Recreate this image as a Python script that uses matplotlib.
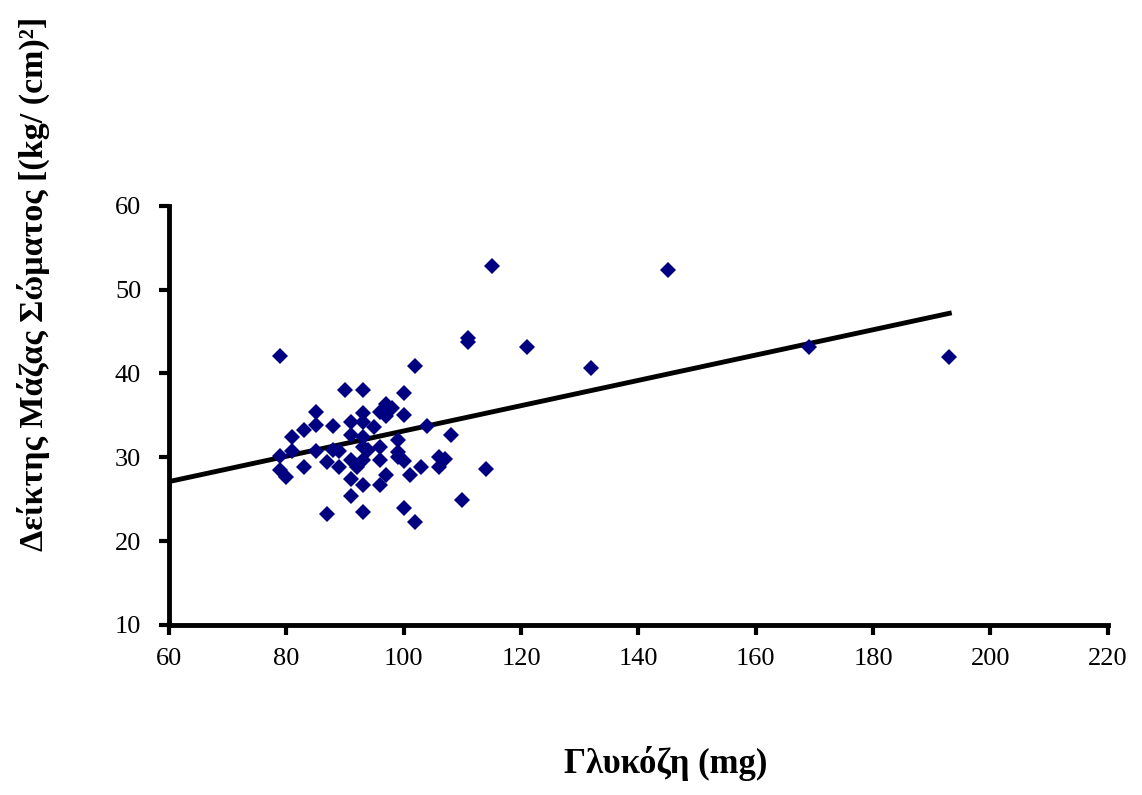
import numpy as np
import matplotlib
matplotlib.use("Agg")
import matplotlib.pyplot as plt

# glucose (mg) vs body mass index
glucose = [79, 115, 145, 111, 111, 121, 132, 169, 193, 102,
           90, 93, 100, 97, 98, 96, 97, 100, 85, 93,
           104, 108, 114, 110, 102, 100, 93, 87, 91, 96,
           97, 93, 91, 101, 103, 106, 107, 106, 99, 99,
           96, 96, 93, 93, 92, 89, 87, 83, 79, 80,
           79, 81, 81, 83, 85, 88, 91, 93, 91, 95,
           93, 88, 85, 94, 100, 99, 89, 91]
bmi = [42.1, 52.8, 52.4, 44.2, 43.8, 43.2, 40.7, 43.2, 42.0, 40.9,
       38.0, 38.0, 37.7, 36.3, 35.9, 35.4, 34.9, 35.1, 35.4, 35.3,
       33.7, 32.6, 28.6, 24.9, 22.3, 23.9, 23.5, 23.2, 25.4, 26.7,
       27.9, 26.7, 27.4, 27.9, 28.8, 30.0, 29.8, 28.9, 30.6, 32.1,
       31.2, 29.7, 31.2, 29.7, 28.9, 28.9, 29.4, 28.9, 28.5, 27.6,
       30.1, 30.7, 32.4, 33.2, 33.9, 33.7, 34.2, 34.2, 32.7, 33.6,
       32.4, 30.9, 30.7, 30.9, 29.5, 30.0, 30.7, 29.7]

# linear trend line as drawn in the original (slope, intercept)
trend_slope = 0.151
trend_intercept = 18.04
trend_start = 60

x_ticks = [60, 80, 100, 120, 140, 160, 180, 200, 220]
y_ticks = [10, 20, 30, 40, 50, 60]

plt.rcParams['font.family'] = ['Liberation Serif', 'DejaVu Serif']

fig = plt.figure(figsize=(11.42, 7.95), dpi=100)
ax = fig.add_axes([0.148, 0.214, 0.822, 0.527])

ax.plot(glucose, bmi, linestyle="none", marker="D", markersize=8.5,
        color="#000080", markeredgewidth=0, zorder=3)

tx = np.array([trend_start, max(glucose)])
ax.plot(tx, trend_slope * tx + trend_intercept, color="black", linewidth=3.5, zorder=2)

ax.set_xlim(60, 220)
ax.set_ylim(10, 60)
ax.set_xticks(x_ticks)
ax.set_yticks(y_ticks)

for side in ["top", "right"]:
    ax.spines[side].set_visible(False)
for side in ["left", "bottom"]:
    ax.spines[side].set_linewidth(3.5)

ax.tick_params(direction="out", length=7, width=3, labelsize=19, pad=10, colors="black")
ax.tick_params(axis="y", pad=13)

fig.text(0.583, 0.04, "Γλυκόζη (mg)", fontsize=25, fontweight="bold",
         ha="center", va="center")
fig.text(0.029, 0.643, "Δείκτης Μάζας Σώματος [(kg/ (cm)²]", fontsize=24.5,
         fontweight="bold", rotation=90, ha="center", va="center")

fig.savefig("out.png", dpi=100)
